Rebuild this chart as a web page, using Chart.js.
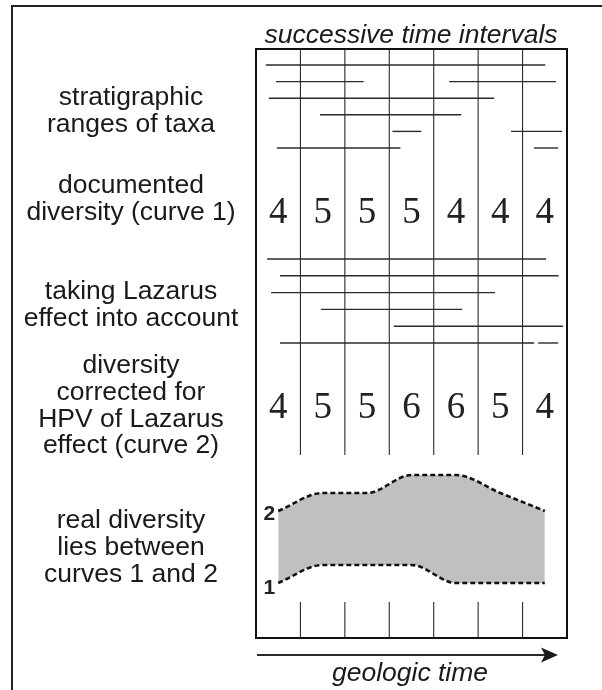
<!DOCTYPE html>
<html>
<head>
<meta charset="utf-8">
<script src="https://cdn.jsdelivr.net/npm/chart.js@4"></script>
<style>
  html, body { margin: 0; padding: 0; background: #fff; }
  #wrap { position: relative; width: 602px; height: 690px; overflow: hidden; }
  #frame { position: absolute; left: 11px; top: 5px; width: 700px; height: 800px;
           border-left: 2.5px solid #222; border-top: 2.5px solid #222; }
  #chart { position: absolute; left: 0; top: 0; }
  .lbl { position: absolute; left: 0; width: 262px; text-align: center;
         font-family: Arial, "Liberation Sans", sans-serif; font-size: 26.5px;
         line-height: 26.8px; color: #1a1a1a; }
  .it { font-style: italic; }
</style>
</head>
<body>
<div id="wrap">
  <div id="frame"></div>
  <canvas id="chart" width="602" height="690"></canvas>
  <div class="lbl it" style="left:261px;width:300px;top:21px">successive time intervals</div>
  <div class="lbl" style="top:83px">stratigraphic<br>ranges of taxa</div>
  <div class="lbl" style="top:171px">documented<br>diversity (curve 1)</div>
  <div class="lbl" style="top:277px">taking Lazarus<br>effect into account</div>
  <div class="lbl" style="top:351px">diversity<br>corrected for<br>HPV of Lazarus<br>effect (curve 2)</div>
  <div class="lbl" style="top:506px">real diversity<br>lies between<br>curves 1 and 2</div>
  <div class="lbl it" style="left:260px;width:300px;top:659px">geologic time</div>
</div>
<script>
// seven successive time intervals
var intervals = ['1', '2', '3', '4', '5', '6', '7'];
var documentedDiversity = [4, 5, 5, 5, 4, 4, 4];
var correctedDiversity = [4, 5, 5, 6, 6, 5, 4];

// observed stratigraphic ranges, in interval units (taxon = row)
var rangeStart = [0.22, 0.45, 4.35, 0.29, 1.44, 3.07, 5.74, 0.47, 6.26];
var rangeEnd   = [6.51, 2.42, 6.75, 5.36, 4.62, 3.72, 6.89, 3.25, 6.80];
var rangeTaxon = [0, 1, 1, 2, 3, 4, 4, 5, 5];

// same taxa with the Lazarus gaps closed
var lazarusStart = [0.25, 0.54, 0.34, 1.46, 3.10, 0.54, 6.35];
var lazarusEnd   = [6.53, 6.81, 5.38, 4.64, 6.91, 6.26, 6.80];
var lazarusTaxon = [0, 1, 2, 3, 4, 5, 5];

// layout of the inner box (layout units = px from box top)
var BOX_H = 589;
var OBS_TOP = 16, OBS_STEP = 16.6;
var LAZ_TOP = 210, LAZ_STEP = 16.8;
var NUM1_BASE = 174, NUM2_BASE = 369;
var DIV_GAP = [406, 553];
var UNIT = 18;          // px per taxon in the bottom panel
var C2_BASE = 462, C1_BASE = 534;  // where value 4 sits

var ink = '#2a2a2a';

function seg(x0, x1, yy) {
  return {
    data: [{x: x0, y: yy}, {x: x1, y: yy}],
    yAxisID: 'y', borderColor: ink, borderWidth: 1.4,
    pointRadius: 0, fill: false
  };
}

var datasets = [];
// curve 1 (documented) and curve 2 (corrected), filled between
datasets.push({
  label: 'curve 1',
  data: documentedDiversity.map(function (v, i) { return {x: i + 0.5, y: v}; }),
  yAxisID: 'c1', borderColor: '#111', borderWidth: 2.6, borderDash: [5, 3],
  pointRadius: 0, cubicInterpolationMode: 'monotone', fill: false
});
datasets.push({
  label: 'curve 2',
  data: correctedDiversity.map(function (v, i) { return {x: i + 0.5, y: v}; }),
  yAxisID: 'c2', borderColor: '#111', borderWidth: 2.6, borderDash: [5, 3],
  pointRadius: 0, cubicInterpolationMode: 'monotone',
  fill: '-1', backgroundColor: '#c0c0c0'
});

// interval dividers
for (var b = 1; b < intervals.length; b++) {
  datasets.push({
    data: [{x: b, y: 0}, {x: b, y: DIV_GAP[0]}, {x: b, y: null}, {x: b, y: DIV_GAP[1]}, {x: b, y: BOX_H}],
    yAxisID: 'y', borderColor: ink, borderWidth: 1.1, pointRadius: 0, fill: false, spanGaps: false
  });
}
rangeStart.forEach(function (s, i) {
  datasets.push(seg(s, rangeEnd[i], OBS_TOP + rangeTaxon[i] * OBS_STEP));
});
lazarusStart.forEach(function (s, i) {
  datasets.push(seg(s, lazarusEnd[i], LAZ_TOP + lazarusTaxon[i] * LAZ_STEP));
});

var decor = {
  id: 'decor',
  afterDatasetsDraw: function (chart) {
    var ctx = chart.ctx, a = chart.chartArea;
    var x = chart.scales.x, y = chart.scales.y, c1 = chart.scales.c1, c2 = chart.scales.c2;
    ctx.save();
    ctx.fillStyle = '#222';
    ctx.font = '37px "Liberation Serif", "Times New Roman", serif';
    ctx.textAlign = 'center';
    ctx.textBaseline = 'alphabetic';
    documentedDiversity.forEach(function (v, i) {
      ctx.fillText(String(v), x.getPixelForValue(i + 0.5), y.getPixelForValue(NUM1_BASE));
    });
    correctedDiversity.forEach(function (v, i) {
      ctx.fillText(String(v), x.getPixelForValue(i + 0.5), y.getPixelForValue(NUM2_BASE));
    });
    ctx.font = 'bold 21px Arial, "Liberation Sans", sans-serif';
    ctx.textAlign = 'right';
    ctx.textBaseline = 'middle';
    ctx.fillText('2', x.getPixelForValue(0.5) - 3, c2.getPixelForValue(correctedDiversity[0]) + 3);
    ctx.fillText('1', x.getPixelForValue(0.5) - 3, c1.getPixelForValue(documentedDiversity[0]) + 5);
    // box
    ctx.lineWidth = 2;
    ctx.strokeStyle = '#111';
    ctx.strokeRect(a.left, a.top, a.right - a.left, a.bottom - a.top);
    // time arrow
    var ay = a.bottom + 17;
    ctx.beginPath();
    ctx.moveTo(a.left + 1, ay);
    ctx.lineTo(a.right - 20, ay);
    ctx.lineWidth = 2;
    ctx.strokeStyle = ink;
    ctx.stroke();
    ctx.beginPath();
    ctx.moveTo(a.right - 9, ay);
    ctx.lineTo(a.right - 26, ay - 7.5);
    ctx.lineTo(a.right - 22, ay);
    ctx.lineTo(a.right - 26, ay + 7.5);
    ctx.closePath();
    ctx.fillStyle = '#1a1a1a';
    ctx.fill();
    ctx.restore();
  }
};

var c2Max = 4 + C2_BASE / UNIT, c1Max = 4 + C1_BASE / UNIT;
var ctx = document.getElementById('chart').getContext('2d');
new Chart(ctx, {
  type: 'line',
  data: {datasets: datasets},
  options: {
    responsive: false,
    animation: false,
    devicePixelRatio: 1,
    layout: {padding: {left: 256, top: 49, right: 35, bottom: 52}},
    plugins: {legend: {display: false}, tooltip: {enabled: false}},
    scales: {
      x: {type: 'linear', min: 0, max: intervals.length, display: false},
      y: {type: 'linear', min: 0, max: BOX_H, reverse: true, display: false},
      c1: {type: 'linear', min: c1Max - BOX_H / UNIT, max: c1Max, display: false},
      c2: {type: 'linear', min: c2Max - BOX_H / UNIT, max: c2Max, display: false}
    }
  },
  plugins: [decor]
});
</script>
</body>
</html>
